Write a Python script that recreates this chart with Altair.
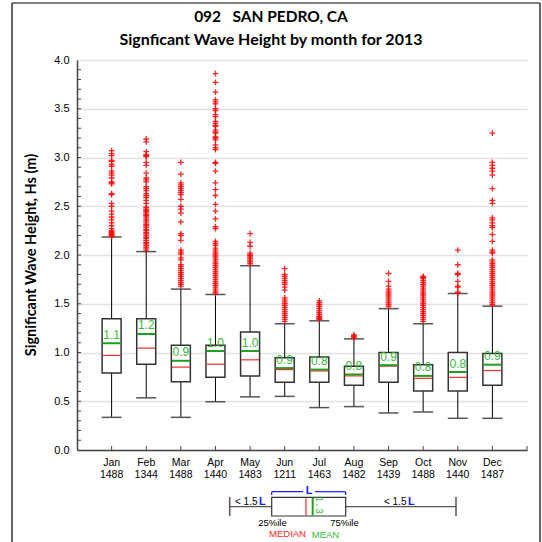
import altair as alt
import pandas as pd
import numpy as np

months = ["Jan", "Feb", "Mar", "Apr", "May", "Jun", "Jul", "Aug", "Sep", "Oct", "Nov", "Dec"]
counts = ["1488", "1344", "1488", "1440", "1483", "1211", "1463", "1482", "1439", "1488", "1440", "1487"]
q1 = [0.79, 0.88, 0.70, 0.745, 0.76, 0.695, 0.695, 0.665, 0.695, 0.605, 0.605, 0.665]
q3 = [1.345, 1.345, 1.075, 1.075, 1.21, 0.945, 0.955, 0.86, 1.0, 0.875, 1.0, 0.99]
median = [0.97, 1.045, 0.85, 0.88, 0.925, 0.825, 0.81, 0.76, 0.86, 0.735, 0.745, 0.815]
mean = [1.095, 1.19, 0.915, 1.015, 1.015, 0.84, 0.825, 0.775, 0.87, 0.76, 0.80, 0.875]
mean_labels = ["1.1", "1.2", "0.9", "1.0", "1.0", "0.9", "0.8", "0.8", "0.9", "0.8", "0.8", "0.9"]
whisk_lo = [0.335, 0.535, 0.335, 0.495, 0.545, 0.55, 0.435, 0.445, 0.38, 0.39, 0.325, 0.325]
whisk_hi = [2.185, 2.035, 1.65, 1.595, 1.89, 1.295, 1.325, 1.14, 1.45, 1.295, 1.605, 1.475]

out_jan = [3.07, 3.04, 3.02, 2.97, 2.96, 2.93, 2.91, 2.86, 2.84, 2.82, 2.79, 2.75, 2.74, 2.73,
           2.63, 2.62, 2.53, 2.50, 2.45, 2.42, 2.39, 2.36, 2.33, 2.30, 2.27, 2.25, 2.24, 2.23,
           2.22, 2.21, 2.20, 2.19]
out_feb = [3.19, 3.16, 3.06, 3.03, 3.02, 3.01, 2.95, 2.92, 2.84, 2.79, 2.77, 2.75, 2.70, 2.68,
           2.66, 2.63, 2.61, 2.59, 2.56, 2.53, 2.49, 2.47, 2.46, 2.45, 2.44, 2.42, 2.41, 2.40,
           2.38, 2.36, 2.35, 2.33, 2.31, 2.30, 2.28, 2.26, 2.25, 2.23, 2.22, 2.20, 2.18, 2.17,
           2.15, 2.13, 2.12, 2.10, 2.08, 2.07, 2.05]
out_mar = [2.95, 2.83, 2.74, 2.72, 2.70, 2.68, 2.66, 2.64, 2.62, 2.57, 2.50, 2.47, 2.43, 2.34,
           2.22, 2.20, 2.15, 2.05, 2.03, 2.01, 1.97, 1.95, 1.90, 1.88, 1.86, 1.84, 1.82, 1.80,
           1.78, 1.76, 1.74, 1.72, 1.70, 1.68]
out_apr = [3.86, 3.77, 3.67, 3.59, 3.57, 3.55, 3.50, 3.48, 3.44, 3.42, 3.37, 3.35, 3.33, 3.32,
           3.28, 3.26, 3.25, 3.21, 3.20, 3.18, 3.13, 3.10, 3.08, 2.95, 2.94, 2.86, 2.74, 2.67,
           2.61, 2.52, 2.45, 2.37, 2.29, 2.27, 2.14, 2.12, 2.10, 2.07, 2.05, 2.03, 2.01, 1.99,
           1.97, 1.95, 1.93, 1.91, 1.89, 1.87, 1.85, 1.83, 1.81, 1.79, 1.77, 1.75, 1.73, 1.71,
           1.69, 1.67, 1.65, 1.63, 1.61]
out_may = [2.22, 2.13, 2.09, 2.02, 2.00, 1.99, 1.97, 1.96, 1.94, 1.93, 1.91]
out_jun = [1.86, 1.80, 1.78, 1.76, 1.74, 1.72, 1.70, 1.67, 1.64, 1.56, 1.54, 1.52, 1.50, 1.48,
           1.46, 1.44, 1.42, 1.40, 1.38, 1.36, 1.34, 1.32]
out_jul = [1.53, 1.51, 1.49, 1.47, 1.45, 1.43, 1.41, 1.39, 1.37, 1.36, 1.35, 1.34]
out_aug = [1.18, 1.17, 1.16, 1.15]
out_sep = [1.81, 1.73, 1.68, 1.65, 1.63, 1.61, 1.59, 1.57, 1.55, 1.53, 1.51, 1.49, 1.47]
out_oct = [1.78, 1.77, 1.76, 1.74, 1.72, 1.70, 1.68, 1.66, 1.64, 1.62, 1.60, 1.58, 1.56, 1.54,
           1.52, 1.50, 1.48, 1.46, 1.44, 1.42, 1.40, 1.38, 1.36, 1.34, 1.32]
out_nov = [2.05, 1.90, 1.81, 1.80, 1.73, 1.68, 1.67, 1.62, 1.61]
out_dec = [3.25, 2.95, 2.92, 2.89, 2.86, 2.82, 2.68, 2.56, 2.53, 2.38, 2.36, 2.33, 2.30, 2.28,
           2.21, 2.14, 2.05, 2.03, 2.02, 1.95, 1.93, 1.91, 1.89, 1.87, 1.85, 1.83, 1.81, 1.79,
           1.77, 1.75, 1.73, 1.71, 1.69, 1.67, 1.65, 1.63, 1.61, 1.59, 1.57, 1.55, 1.53, 1.51,
           1.49]
outliers = [out_jan, out_feb, out_mar, out_apr, out_may, out_jun, out_jul, out_aug,
            out_sep, out_oct, out_nov, out_dec]

y_major = [0.0, 0.5, 1.0, 1.5, 2.0, 2.5, 3.0, 3.5, 4.0]

# ---- tables built from the arrays ----
box = pd.DataFrame({
    "m": list(range(1, 13)), "month": months, "count": counts,
    "q1": q1, "q3": q3, "median": median, "mean": mean, "mlab": mean_labels,
    "lo": whisk_lo, "hi": whisk_hi,
})
out_df = pd.DataFrame([{"m": i + 1, "v": v} for i, vals in enumerate(outliers) for v in vals])
minor_df = pd.DataFrame({"t": np.round(np.arange(0.1, 4.0, 0.1), 2)})
xtick_df = pd.DataFrame({"m": list(range(1, 14))})
dummy = pd.DataFrame({"a": [0]})

xs = alt.Scale(domain=[0, 13], nice=False, zero=False)
ys = alt.Scale(domain=[0, 4], nice=False)
X = alt.X("m:Q", scale=xs)


def Y(field):
    return alt.Y(field, scale=ys)


W, H = 450, 390
FONT = "Liberation Sans"
BOXC = "#333333"
GREEN = "#1f9e1f"
TGREEN = "#36b836"
BLUE = "#1a1aff"

axis_layer = alt.Chart(box).mark_point(opacity=0).encode(
    x=alt.X("m:Q", scale=xs, axis=alt.Axis(domain=True, domainColor="#444444", domainWidth=1.5,
                                            labels=False, ticks=False, grid=False, title=None)),
    y=alt.Y("median:Q", scale=ys, axis=alt.Axis(values=y_major, format=".1f", labelFont=FONT,
                                                 labelFontSize=11, labelColor="#000000",
                                                 labelPadding=8, ticks=False, domain=True,
                                                 domainColor="#444444", domainWidth=1.5,
                                                 grid=True, gridColor="#e2e2e2", gridWidth=1.5,
                                                 title=None)),
)

minor_ticks = alt.Chart(minor_df).mark_rule(color="#444444", strokeWidth=1).encode(
    x=alt.value(0), x2=alt.value(4), y=Y("t:Q")
)
x_ticks = alt.Chart(xtick_df).mark_rule(color="#444444", strokeWidth=1).encode(
    x=X, y=alt.value(H), y2=alt.value(H - 4)
)

whisk_up = alt.Chart(box).mark_rule(color="#000000", strokeWidth=1).encode(
    x=X, y=Y("q3:Q"), y2="hi:Q")
whisk_dn = alt.Chart(box).mark_rule(color="#000000", strokeWidth=1).encode(
    x=X, y=Y("lo:Q"), y2="q1:Q")
cap_hi = alt.Chart(box).mark_rule(color="#555555", strokeWidth=1.5, xOffset=-10, x2Offset=10).encode(
    x=X, x2="m:Q", y=Y("hi:Q"))
cap_lo = alt.Chart(box).mark_rule(color="#555555", strokeWidth=1.5, xOffset=-10, x2Offset=10).encode(
    x=X, x2="m:Q", y=Y("lo:Q"))
boxes = alt.Chart(box).mark_rect(fill="#ffffff", stroke=BOXC, strokeWidth=1.5,
                                 xOffset=-9.5, x2Offset=9.5).encode(
    x=X, x2="m:Q", y=Y("q1:Q"), y2="q3:Q")
med = alt.Chart(box).mark_rule(color="#ff2a2a", strokeWidth=1.2, xOffset=-9, x2Offset=9).encode(
    x=X, x2="m:Q", y=Y("median:Q"))
mn = alt.Chart(box).mark_rule(color=GREEN, strokeWidth=2, xOffset=-9, x2Offset=9).encode(
    x=X, x2="m:Q", y=Y("mean:Q"))
mn_txt = alt.Chart(box).mark_text(font=FONT, fontSize=12, color=TGREEN,
                                  baseline="bottom", dy=-1.5, align="center").encode(
    x=X, y=Y("mean:Q"), text="mlab:N")
outs = alt.Chart(out_df).mark_point(shape="M-1,0L1,0M0,-1L0,1", size=34, filled=False,
                                    color="#ff0000", strokeWidth=1.3, opacity=0.85).encode(
    x=X, y=Y("v:Q"))

xlab1 = alt.Chart(box).mark_text(font=FONT, fontSize=10.5, color="#000000", baseline="middle").encode(
    x=X, y=alt.value(H + 13), text="month:N")
xlab2 = alt.Chart(box).mark_text(font=FONT, fontSize=10.5, color="#000000", baseline="middle").encode(
    x=X, y=alt.value(H + 25), text="count:N")


def txt(x, y, s, color="#000000", size=11, weight="normal", align="center", font=FONT, angle=0):
    kw = dict(font=font, fontSize=size, color=color, fontWeight=weight, align=align,
              baseline="middle", text=s)
    if angle:
        kw["angle"] = angle
    return alt.Chart(dummy).mark_text(**kw).encode(x=alt.value(x), y=alt.value(y))


def hline(x1, x2, y, color="#000000", w=1.0):
    return alt.Chart(dummy).mark_rule(color=color, strokeWidth=w).encode(
        x=alt.value(x1), x2=alt.value(x2), y=alt.value(y))


def vline(x, y1, y2, color="#000000", w=1.0):
    return alt.Chart(dummy).mark_rule(color=color, strokeWidth=w).encode(
        x=alt.value(x), y=alt.value(y1), y2=alt.value(y2))


title1 = txt(194, -43, "092\u00a0\u00a0\u00a0SAN PEDRO, CA", size=15.5, weight="bold", font="Lato")
title2 = txt(194, -20, "Signficant Wave Height by month for 2013", size=16, weight="bold", font="Lato")
ytitle = txt(-45, H / 2, "Significant Wave Height, Hs (m)", size=14.5, weight="bold", font="Lato",
             angle=270)

frame = [
    hline(-65, 463, -57, "#000000", 1.2),
    vline(-65, -57, 482, "#000000", 1.2),
    vline(463, -57, 482, "#000000", 1.2),
]

# ---- schematic legend (pixel positions relative to the plot area) ----
lg_box = alt.Chart(dummy).mark_rect(fill="#ffffff", stroke=BOXC, strokeWidth=1.2).encode(
    x=alt.value(194.7), x2=alt.value(268.7), y=alt.value(437.3), y2=alt.value(456))
legend = [
    vline(152.7, 437, 456, "#555555", 1.5),
    hline(152.7, 194.7, 446.7, "#555555", 1.2),
    hline(268.7, 379, 446.7, "#555555", 1.2),
    vline(379, 437, 456, "#555555", 1.5),
    lg_box,
    vline(229, 437.5, 455.5, "#ff2a2a", 1.2),
    vline(235.7, 437.5, 455.5, GREEN, 2),
    txt(242, 445, "1.3", color=TGREEN, size=10, font="Liberation Mono", angle=90),
    hline(194.7, 226, 431.7, BLUE, 1.2),
    hline(238, 268.7, 431.7, BLUE, 1.2),
    vline(194.7, 431.7, 435, BLUE, 1.2),
    vline(268.7, 431.7, 435, BLUE, 1.2),
    txt(232, 430.5, "L", color=BLUE, size=11, weight="bold"),
    txt(158, 441.5, "< 1.5", size=10, align="left"),
    txt(182, 441.5, "L", color=BLUE, size=11, weight="bold", align="left"),
    txt(307, 441.5, "< 1.5", size=10, align="left"),
    txt(331, 441.5, "L", color=BLUE, size=11, weight="bold", align="left"),
    txt(195.5, 462.5, "25%ile", size=9.5),
    txt(267.5, 462.5, "75%ile", size=9.5),
    txt(210.5, 473.5, "MEDIAN", color="#ff2222", size=9.5),
    txt(248.5, 475, "MEAN", color="#33bb33", size=9.5),
]

chart = alt.layer(
    axis_layer, minor_ticks, x_ticks,
    whisk_up, whisk_dn, cap_hi, cap_lo, boxes, med, mn, mn_txt, outs,
    xlab1, xlab2, title1, title2, ytitle, *frame, *legend,
).properties(
    width=W, height=H,
    autosize=alt.AutoSizeParams(type="none"),
    padding={"left": 77, "top": 60, "right": 15, "bottom": 92},
    background="#ffffff",
).configure_view(stroke=None)

chart.save("out.html", embed_options={"renderer": "svg", "actions": False})
